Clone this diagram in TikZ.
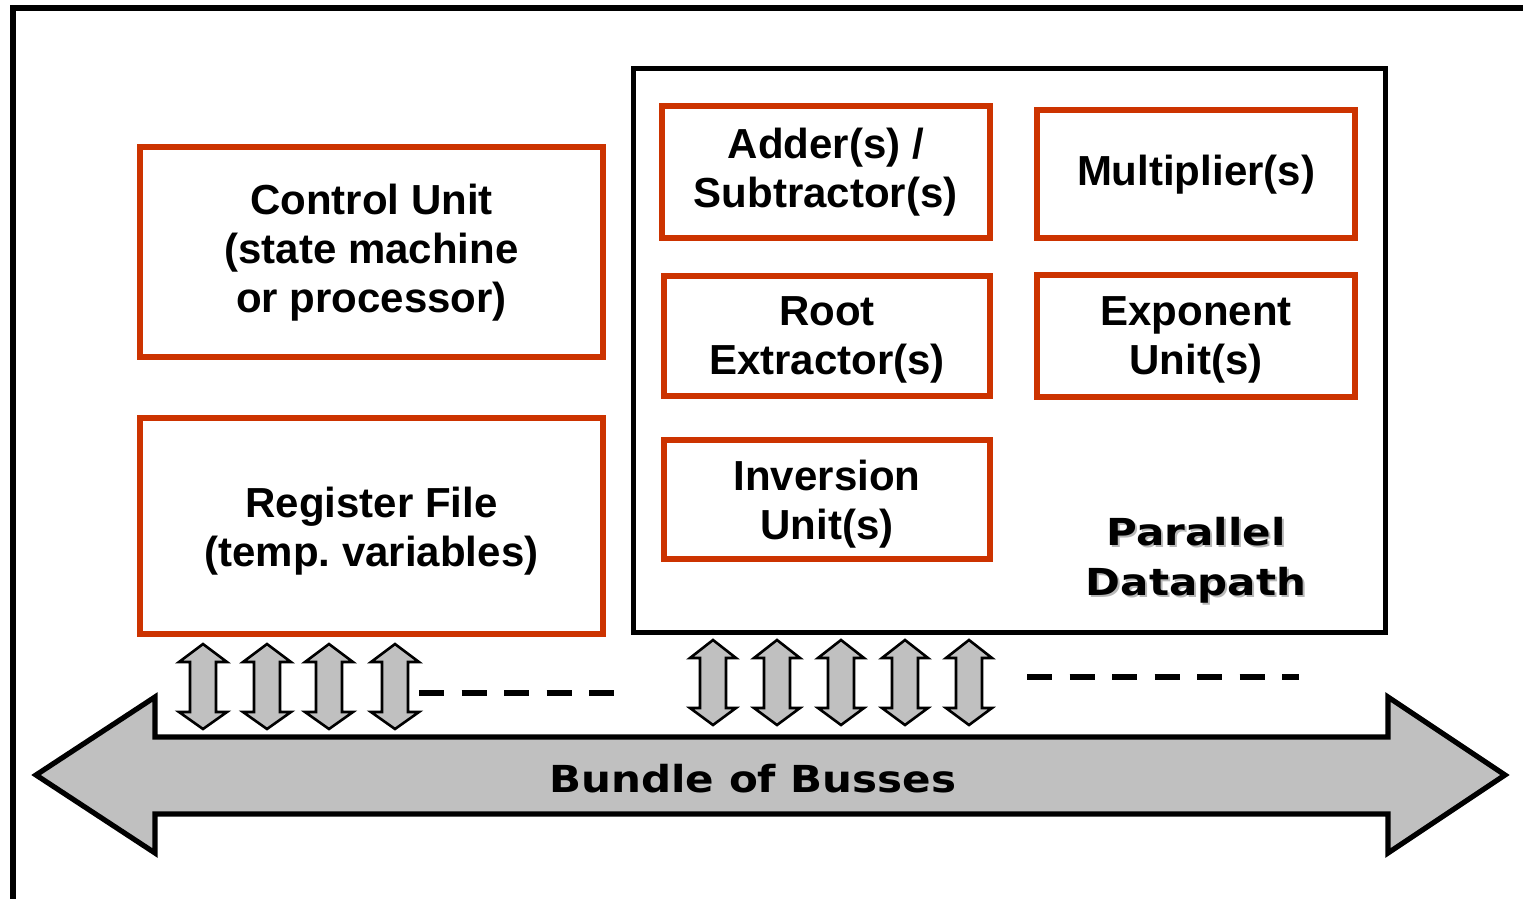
\documentclass[tikz,border=0pt]{standalone}
\usepackage{fontspec}
\setmainfont{Liberation Sans}
\newfontfamily\widefont[FakeStretch=1.13]{DejaVu Sans}
\definecolor{boxred}{HTML}{CC3300}
\definecolor{busgray}{HTML}{C0C0C0}
\frenchspacing
\begin{document}
\begin{tikzpicture}[x=0.5pt,y=-0.5pt,
  ubox/.style={draw=boxred, line width=3pt, inner sep=0pt},
  utext/.style={align=center, inner sep=0pt,
    font=\fontsize{21pt}{24.5pt}\selectfont\bfseries},
  dpbox/.style={draw=black, line width=2.5pt, inner sep=0pt},
  sarrow/.style={draw=black, fill=busgray, line width=1.3pt, line join=miter},
  bigarrow/.style={draw=black, fill=busgray, line width=2.6pt, line join=miter},
  dashline/.style={draw=black, line width=3.3pt, dash pattern=on 12.5pt off 8.75pt},
  frame/.style={draw=black, line width=2.8pt, line join=miter},
  widelabel/.style={align=center, inner sep=0pt,
    font=\widefont\fontsize{18.6pt}{25pt}\selectfont\bfseries}]
\useasboundingbox (0,0) rectangle (1523,899);
% outer frame (top and left edges)
\coordinate (fbl) at (13,899);
\coordinate (ftl) at (13,8);
\coordinate (ftr) at (1523,8);
\draw[frame] (fbl) -- (ftl) -- (ftr);
% datapath box
\node[dpbox, minimum width=375.75pt, minimum height=281.5pt] (dp) at (1009.25,350.5) {};
% control and register boxes
\node[ubox, minimum width=231.5pt, minimum height=105pt] (ctrl) at (371.5,252) {};
\node[utext] (ctrlt) at (371.5,253) {Control Unit\\(state machine\\or processor)};
\node[ubox, minimum width=231.5pt, minimum height=108pt] (reg) at (371.5,526) {};
\node[utext] (regt) at (371.5,531.5) {Register File\\(temp. variables)};
% datapath units
\node[ubox, minimum width=164.25pt, minimum height=65.75pt] (adder) at (825.75,172.25) {};
\node[utext] (addert) at (825.75,172.5) {Adder(s) /\\Subtractor(s)};
\node[ubox, minimum width=159pt, minimum height=64pt] (mult) at (1196,174) {};
\node[utext] (multt) at (1196,175) {Multiplier(s)};
\node[ubox, minimum width=163pt, minimum height=60pt] (root) at (827,336) {};
\node[utext] (roott) at (827,340) {Root\\Extractor(s)};
\node[ubox, minimum width=159pt, minimum height=61pt] (expo) at (1196,336) {};
\node[utext] (expot) at (1196,340) {Exponent\\Unit(s)};
\node[ubox, minimum width=163pt, minimum height=59.5pt] (inv) at (827,499.5) {};
\node[utext] (invt) at (827,504.5) {Inversion\\Unit(s)};
% Parallel Datapath label with shadow
\node[widelabel, text=black!28] (dpshadow) at (1198,562) {Parallel\\Datapath};
\node[widelabel] (dplabel) at (1196,560) {Parallel\\Datapath};
% big bus arrow
\draw[bigarrow] (36,775) -- (155,697) -- (155,737) -- (1388,737) -- (1388,697)
  -- (1505,775) -- (1388,853) -- (1388,814) -- (155,814) -- (155,853) -- cycle;
\node[widelabel] (bus) at (753,779) {Bundle of Busses};
% small bidirectional arrows, left group
\foreach \c in {203,267,329,395}{
  \draw[sarrow] (\c,644) -- (\c+24,662) -- (\c+13,662) -- (\c+13,712) -- (\c+24,712)
    -- (\c,729) -- (\c-24,712) -- (\c-13,712) -- (\c-13,662) -- (\c-24,662) -- cycle;
}
% small bidirectional arrows, right group
\foreach \c in {713,777,841,905,969}{
  \draw[sarrow] (\c,640) -- (\c+23,658) -- (\c+13,658) -- (\c+13,708) -- (\c+23,708)
    -- (\c,725) -- (\c-23,708) -- (\c-13,708) -- (\c-13,658) -- (\c-23,658) -- cycle;
}
% dashed continuation lines
\coordinate (dl1) at (419,693);
\coordinate (dl2) at (614,693);
\coordinate (dr1) at (1027,677);
\coordinate (dr2) at (1299,677);
\draw[dashline] (dl1) -- (dl2);
\draw[dashline] (dr1) -- (dr2);
\end{tikzpicture}
\end{document}
